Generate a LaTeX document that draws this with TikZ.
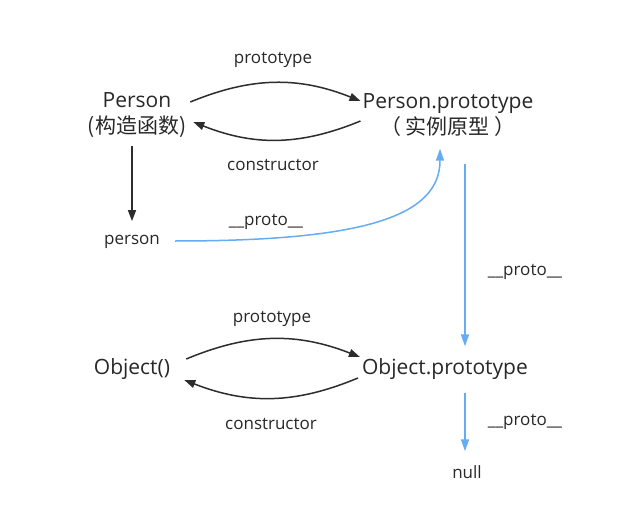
\documentclass[tikz,border=0pt]{standalone}
\usepackage{fontspec}
\setmainfont{Open Sans}
\newfontfamily\cjk{Noto Sans CJK SC}
\usetikzlibrary{arrows.meta}
\definecolor{txt}{RGB}{40,40,40}
\definecolor{blk}{RGB}{45,45,45}
\definecolor{blu}{RGB}{102,172,242}
\begin{document}
\begin{tikzpicture}[x=1pt,y=1pt,
  big/.style={inner sep=2pt,text=txt,font=\fontsize{21}{26}\selectfont,align=center},
  lbl/.style={inner sep=2pt,text=txt,font=\fontsize{17}{20}\selectfont},
  blkarr/.style={draw=blk,line width=1.5pt,-{Triangle[length=11pt,width=8pt]}},
  bluarr/.style={draw=blu,line width=1.5pt,-{Triangle[length=12pt,width=8pt]}}]
\useasboundingbox (0,0) rectangle (620,512);
\fill[white] (0,0) rectangle (620,512);
% nodes
\node[big] (P) at (137,397) {Person\\{\cjk(构造函数)}};
\node[big] (PP) at (448,397) {Person.prototype\\{\cjk （ 实例原型 ）}};
\node[lbl] (l1) at (273,452) {prototype};
\node[lbl] (l2) at (273,347) {constructor};
\node[lbl] (person) at (132,270) {person};
\node[lbl] (l3) at (266,290) {\_\_proto\_\_};
\node[lbl] (l4) at (525,240) {\_\_proto\_\_};
\node[big] (O) at (132,143) {Object()};
\node[big] (OP) at (445,143) {Object.prototype};
\node[lbl] (l5) at (272,193) {prototype};
\node[lbl] (l6) at (271,88) {constructor};
\node[lbl] (l7) at (525,90) {\_\_proto\_\_};
\node[lbl] (null) at (467,40) {null};
% top pair
\draw[blkarr] ([xshift=2pt,yshift=13pt]P.east) to[bend left=22] ([yshift=14pt]PP.west);
\draw[blkarr] ([yshift=-6pt]PP.west) to[bend left=22] ([xshift=5pt,yshift=-7pt]P.east);
\draw[blkarr,shorten <=6pt,shorten >=12pt] ([xshift=-5pt]P.south) -- ([xshift=0pt]person.north);
\draw[bluarr,shorten >=10pt] ([xshift=13pt,yshift=1pt]person.east) to[out=0,in=-90,out looseness=1.7,in looseness=0.7] ([xshift=-8pt]PP.south);
\coordinate (b1) at ([xshift=17pt,yshift=-25pt]PP.south);
\draw[bluarr,shorten >=10pt] (b1) -- (b1 |- OP.north);
% bottom pair
\draw[blkarr] ([xshift=14pt,yshift=10pt]O.east) to[bend left=22] ([yshift=12pt]OP.west);
\draw[blkarr] ([xshift=-2pt,yshift=-9pt]OP.west) to[bend left=22] ([xshift=12pt,yshift=-11pt]O.east);
\coordinate (b2) at ([xshift=20pt,yshift=-11pt]OP.south);
\draw[bluarr,shorten >=12pt] (b2) -- (b2 |- null.north);
\end{tikzpicture}
\end{document}
